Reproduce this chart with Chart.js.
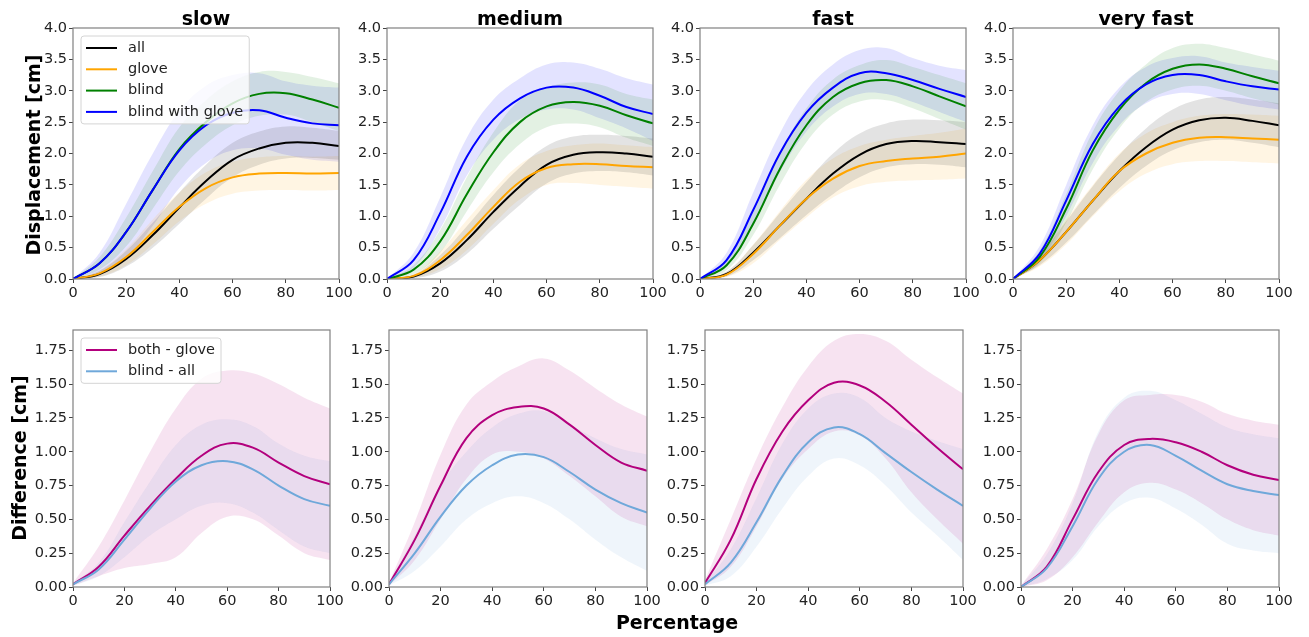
<!DOCTYPE html>
<html>
<head>
<meta charset="utf-8">
<script src="https://cdn.jsdelivr.net/npm/chart.js@4.4.0/dist/chart.umd.min.js"></script>
<style>
  body { margin: 0; background: #fff; font-family: "DejaVu Sans", sans-serif; }
  #fig { position: relative; width: 1309px; height: 637px; overflow: hidden; background: #fff; }
  #fig canvas { position: absolute; }
  .lbl { position: absolute; font-weight: bold; font-size: 19px; color: #000; white-space: nowrap; transform: translate(-50%, -50%); }
  .rot { transform: translate(-50%, -50%) rotate(-90deg); }
</style>
</head>
<body>
<div id="fig"></div>
<script>
// sample positions along the movement (percent)
const percent = [0, 10, 20, 30, 40, 50, 60, 70, 80, 90, 100];

const speeds = ["slow", "medium", "fast", "very fast"];
const dispNames = ["all", "glove", "blind", "blind with glove"];
const diffNames = ["both - glove", "blind - all"];

const xTicks = [0, 20, 40, 60, 80, 100];
const dispTicks = [0, 0.5, 1, 1.5, 2, 2.5, 3, 3.5, 4];
const diffTicks = [0, 0.25, 0.5, 0.75, 1, 1.25, 1.5, 1.75];

// displacement, slow
const allSlow      = [0, 0.08, 0.32, 0.70, 1.14, 1.56, 1.90, 2.08, 2.17, 2.17, 2.12];
const allSlowLo    = [0, 0.03, 0.20, 0.50, 0.88, 1.28, 1.62, 1.82, 1.92, 1.93, 1.90];
const allSlowHi    = [0, 0.13, 0.45, 0.90, 1.38, 1.82, 2.17, 2.35, 2.43, 2.41, 2.36];
const gloveSlow    = [0, 0.09, 0.35, 0.75, 1.15, 1.45, 1.62, 1.68, 1.69, 1.68, 1.69];
const gloveSlowLo  = [0, 0.04, 0.22, 0.55, 0.92, 1.20, 1.36, 1.41, 1.42, 1.41, 1.42];
const gloveSlowHi  = [0, 0.14, 0.48, 0.95, 1.38, 1.70, 1.87, 1.94, 1.96, 1.95, 1.96];
const blindSlow    = [0, 0.25, 0.75, 1.42, 2.07, 2.50, 2.80, 2.95, 2.96, 2.86, 2.73];
const blindSlowLo  = [0, 0.15, 0.52, 1.12, 1.72, 2.15, 2.45, 2.60, 2.62, 2.50, 2.36];
const blindSlowHi  = [0, 0.35, 0.98, 1.72, 2.42, 2.85, 3.15, 3.30, 3.30, 3.22, 3.12];
const bothSlow     = [0, 0.25, 0.75, 1.42, 2.05, 2.45, 2.65, 2.69, 2.57, 2.48, 2.45];
const bothSlowLo   = [0, 0.10, 0.35, 0.85, 1.45, 1.85, 2.05, 2.08, 1.98, 1.90, 1.87];
const bothSlowHi   = [0, 0.42, 1.20, 2.00, 2.68, 3.08, 3.25, 3.28, 3.15, 3.08, 3.05];

// displacement, medium
const allMed       = [0, 0.04, 0.25, 0.62, 1.07, 1.48, 1.82, 1.98, 2.02, 2.00, 1.95];
const allMedLo     = [0, 0.01, 0.12, 0.40, 0.80, 1.18, 1.52, 1.68, 1.72, 1.70, 1.65];
const allMedHi     = [0, 0.07, 0.38, 0.84, 1.34, 1.78, 2.12, 2.27, 2.30, 2.28, 2.24];
const gloveMed     = [0, 0.05, 0.30, 0.70, 1.15, 1.55, 1.77, 1.83, 1.83, 1.80, 1.78];
const gloveMedLo   = [0, 0.02, 0.16, 0.46, 0.88, 1.27, 1.50, 1.53, 1.50, 1.47, 1.44];
const gloveMedHi   = [0, 0.08, 0.44, 0.94, 1.42, 1.83, 2.04, 2.13, 2.16, 2.13, 2.10];
const blindMed     = [0, 0.15, 0.60, 1.35, 2.02, 2.50, 2.75, 2.82, 2.76, 2.61, 2.48];
const blindMedLo   = [0, 0.08, 0.42, 1.08, 1.70, 2.15, 2.42, 2.48, 2.42, 2.25, 2.12];
const blindMedHi   = [0, 0.22, 0.78, 1.62, 2.34, 2.85, 3.05, 3.13, 3.10, 2.95, 2.86];
const bothMed      = [0, 0.30, 1.05, 1.95, 2.54, 2.88, 3.05, 3.05, 2.92, 2.74, 2.63];
const bothMedLo    = [0, 0.18, 0.80, 1.65, 2.22, 2.55, 2.70, 2.70, 2.56, 2.40, 2.20];
const bothMedHi    = [0, 0.42, 1.30, 2.25, 2.86, 3.20, 3.42, 3.45, 3.35, 3.20, 3.10];

// displacement, fast
const allFast      = [0, 0.08, 0.42, 0.85, 1.28, 1.68, 1.98, 2.15, 2.20, 2.18, 2.15];
const allFastLo    = [0, 0.04, 0.30, 0.65, 1.02, 1.35, 1.62, 1.78, 1.83, 1.82, 1.78];
const allFastHi    = [0, 0.12, 0.54, 1.05, 1.54, 2.00, 2.32, 2.48, 2.54, 2.53, 2.50];
const gloveFast    = [0, 0.07, 0.40, 0.85, 1.28, 1.60, 1.80, 1.88, 1.92, 1.95, 2.00];
const gloveFastLo  = [0, 0.03, 0.25, 0.62, 0.98, 1.30, 1.48, 1.55, 1.57, 1.58, 1.60];
const gloveFastHi  = [0, 0.11, 0.55, 1.08, 1.58, 1.92, 2.12, 2.22, 2.28, 2.33, 2.40];
const blindFast    = [0, 0.22, 0.88, 1.75, 2.45, 2.90, 3.12, 3.17, 3.07, 2.91, 2.75];
const blindFastLo  = [0, 0.14, 0.70, 1.50, 2.18, 2.62, 2.83, 2.85, 2.72, 2.55, 2.38];
const blindFastHi  = [0, 0.30, 1.06, 2.00, 2.72, 3.18, 3.41, 3.49, 3.38, 3.25, 3.12];
const bothFast     = [0, 0.30, 1.10, 2.00, 2.65, 3.05, 3.28, 3.28, 3.17, 3.03, 2.90];
const bothFastLo   = [0, 0.20, 0.85, 1.70, 2.35, 2.75, 2.95, 2.95, 2.82, 2.66, 2.50];
const bothFastHi   = [0, 0.42, 1.38, 2.32, 3.00, 3.42, 3.65, 3.68, 3.52, 3.40, 3.33];

// displacement, very fast
const allVf        = [0, 0.30, 0.75, 1.25, 1.72, 2.10, 2.38, 2.53, 2.57, 2.52, 2.45];
const allVfLo      = [0, 0.22, 0.58, 1.02, 1.45, 1.80, 2.05, 2.18, 2.22, 2.17, 2.10];
const allVfHi      = [0, 0.38, 0.92, 1.48, 1.98, 2.40, 2.70, 2.86, 2.90, 2.86, 2.80];
const gloveVf      = [0, 0.30, 0.75, 1.25, 1.72, 2.00, 2.17, 2.25, 2.26, 2.24, 2.22];
const gloveVfLo    = [0, 0.20, 0.55, 1.00, 1.40, 1.68, 1.83, 1.88, 1.88, 1.86, 1.84];
const gloveVfHi    = [0, 0.40, 0.95, 1.50, 2.00, 2.32, 2.50, 2.60, 2.63, 2.62, 2.60];
const blindVf      = [0, 0.35, 1.12, 2.05, 2.70, 3.12, 3.35, 3.42, 3.35, 3.23, 3.12];
const blindVfLo    = [0, 0.25, 0.90, 1.75, 2.40, 2.82, 3.02, 3.08, 3.00, 2.88, 2.78];
const blindVfHi    = [0, 0.45, 1.35, 2.35, 3.00, 3.42, 3.68, 3.75, 3.68, 3.58, 3.48];
const bothVf       = [0, 0.40, 1.25, 2.15, 2.75, 3.10, 3.25, 3.25, 3.15, 3.07, 3.02];
const bothVfLo     = [0, 0.28, 1.00, 1.85, 2.45, 2.80, 2.95, 2.95, 2.85, 2.76, 2.70];
const bothVfHi     = [0, 0.52, 1.50, 2.45, 3.05, 3.38, 3.52, 3.55, 3.45, 3.38, 3.32];

// differences
const bgSlow   = [0.02, 0.15, 0.38, 0.60, 0.80, 0.97, 1.06, 1.03, 0.92, 0.82, 0.76];
const bgSlowLo = [0.01, 0.08, 0.14, 0.17, 0.22, 0.40, 0.52, 0.50, 0.38, 0.25, 0.20];
const bgSlowHi = [0.03, 0.30, 0.64, 1.00, 1.32, 1.54, 1.60, 1.58, 1.50, 1.40, 1.32];
const baSlow   = [0.02, 0.13, 0.35, 0.58, 0.78, 0.90, 0.93, 0.87, 0.75, 0.65, 0.60];
const baSlowLo = [0.01, 0.08, 0.22, 0.38, 0.50, 0.60, 0.62, 0.55, 0.42, 0.30, 0.25];
const baSlowHi = [0.03, 0.18, 0.48, 0.78, 1.05, 1.20, 1.24, 1.19, 1.06, 0.97, 0.93];

const bgMed    = [0.02, 0.35, 0.75, 1.10, 1.27, 1.33, 1.32, 1.20, 1.05, 0.92, 0.86];
const bgMedLo  = [0.01, 0.20, 0.50, 0.80, 0.98, 1.00, 0.95, 0.82, 0.67, 0.52, 0.45];
const bgMedHi  = [0.03, 0.48, 0.98, 1.35, 1.52, 1.63, 1.69, 1.60, 1.47, 1.35, 1.26];
const baMed    = [0.02, 0.25, 0.52, 0.75, 0.90, 0.98, 0.96, 0.85, 0.72, 0.62, 0.55];
const baMedLo  = [0.01, 0.12, 0.30, 0.50, 0.62, 0.67, 0.62, 0.50, 0.35, 0.22, 0.12];
const baMedHi  = [0.03, 0.38, 0.75, 1.00, 1.18, 1.28, 1.30, 1.20, 1.10, 1.02, 0.98];

const bgFast   = [0.03, 0.35, 0.80, 1.15, 1.38, 1.51, 1.49, 1.37, 1.20, 1.03, 0.87];
const bgFastLo = [0.01, 0.15, 0.45, 0.80, 1.02, 1.15, 1.12, 0.95, 0.70, 0.50, 0.32];
const bgFastHi = [0.05, 0.50, 0.95, 1.33, 1.63, 1.82, 1.87, 1.82, 1.68, 1.55, 1.43];
const baFast   = [0.02, 0.18, 0.48, 0.82, 1.07, 1.18, 1.13, 0.99, 0.85, 0.72, 0.60];
const baFastLo = [0.01, 0.08, 0.30, 0.58, 0.82, 0.95, 0.90, 0.75, 0.55, 0.38, 0.20];
const baFastHi = [0.03, 0.28, 0.66, 1.06, 1.32, 1.43, 1.40, 1.25, 1.15, 1.08, 1.02];

const bgVf     = [0.00, 0.15, 0.50, 0.85, 1.05, 1.095, 1.07, 1.00, 0.90, 0.83, 0.79];
const bgVfLo   = [0.00, 0.05, 0.22, 0.48, 0.70, 0.77, 0.72, 0.62, 0.50, 0.42, 0.38];
const bgVfHi   = [0.01, 0.28, 0.65, 1.13, 1.38, 1.42, 1.42, 1.37, 1.28, 1.23, 1.20];
const baVf     = [0.00, 0.14, 0.45, 0.80, 1.00, 1.05, 0.97, 0.86, 0.76, 0.71, 0.68];
const baVfLo   = [0.00, 0.06, 0.20, 0.45, 0.62, 0.66, 0.58, 0.46, 0.32, 0.27, 0.25];
const baVfHi   = [0.01, 0.24, 0.62, 1.15, 1.40, 1.45, 1.38, 1.28, 1.18, 1.13, 1.10];

const dispColors = ["#000000", "#ffa500", "#008000", "#0000ff"];
const diffColors = ["#b3007d", "#6fa8da"];

const dispSeries = [
  [[allSlow, allSlowLo, allSlowHi], [gloveSlow, gloveSlowLo, gloveSlowHi], [blindSlow, blindSlowLo, blindSlowHi], [bothSlow, bothSlowLo, bothSlowHi]],
  [[allMed, allMedLo, allMedHi], [gloveMed, gloveMedLo, gloveMedHi], [blindMed, blindMedLo, blindMedHi], [bothMed, bothMedLo, bothMedHi]],
  [[allFast, allFastLo, allFastHi], [gloveFast, gloveFastLo, gloveFastHi], [blindFast, blindFastLo, blindFastHi], [bothFast, bothFastLo, bothFastHi]],
  [[allVf, allVfLo, allVfHi], [gloveVf, gloveVfLo, gloveVfHi], [blindVf, blindVfLo, blindVfHi], [bothVf, bothVfLo, bothVfHi]]
];
const diffSeries = [
  [[bgSlow, bgSlowLo, bgSlowHi], [baSlow, baSlowLo, baSlowHi]],
  [[bgMed, bgMedLo, bgMedHi], [baMed, baMedLo, baMedHi]],
  [[bgFast, bgFastLo, bgFastHi], [baFast, baFastLo, baFastHi]],
  [[bgVf, bgVfLo, bgVfHi], [baVf, baVfLo, baVfHi]]
];

Chart.defaults.font.family = "'DejaVu Sans', sans-serif";
Chart.defaults.font.size = 14.5;
Chart.defaults.color = "#222";

function rgba(hex, a) {
  const n = parseInt(hex.slice(1), 16);
  return `rgba(${n >> 16}, ${(n >> 8) & 255}, ${n & 255}, ${a})`;
}

const pts = ys => percent.map((x, i) => ({ x: x, y: ys[i] }));

// axes box drawn on all four sides
const frame = {
  id: "frame",
  afterDatasetsDraw(chart) {
    const { ctx, chartArea: a } = chart;
    ctx.save();
    ctx.strokeStyle = "#808080";
    ctx.lineWidth = 1.2;
    ctx.strokeRect(a.left, a.top, a.width, a.height);
    ctx.restore();
  }
};

// legend box sitting in the upper-left of the plot area
const insetLegend = {
  id: "insetLegend",
  afterDraw(chart, args, opts) {
    if (!opts.labels) return;
    const { ctx, chartArea: a } = chart;
    const rowH = 21.3;
    ctx.save();
    ctx.font = "14.5px 'DejaVu Sans'";
    const textW = Math.max(...opts.labels.map(t => ctx.measureText(t).width));
    const x = a.left + 8, y = a.top + 8;
    const w = 47 + textW + 6, h = (opts.labels.length - 1) * rowH + 24;
    ctx.beginPath();
    ctx.roundRect(x, y, w, h, 3);
    ctx.fillStyle = "rgba(255,255,255,0.8)";
    ctx.fill();
    ctx.strokeStyle = "#d4d4d4";
    ctx.lineWidth = 1;
    ctx.stroke();
    ctx.textBaseline = "middle";
    opts.labels.forEach((t, i) => {
      const cy = y + 12 + i * rowH;
      ctx.strokeStyle = opts.colors[i];
      ctx.lineWidth = 2;
      ctx.beginPath();
      ctx.moveTo(x + 5, cy);
      ctx.lineTo(x + 36, cy);
      ctx.stroke();
      ctx.fillStyle = "#222";
      ctx.fillText(t, x + 47, cy);
    });
    ctx.restore();
  }
};

const fig = document.getElementById("fig");
const padL = 60, padR = 16, padT = 12, padB = 28;
const curve = { pointRadius: 0, tension: 0.4 };

function panel(box, series, colors, yMax, yTicks, digits, legend) {
  const canvas = document.createElement("canvas");
  canvas.width = box.w + padL + padR;
  canvas.height = box.h + padT + padB;
  canvas.style.left = (box.x - padL) + "px";
  canvas.style.top = (box.y - padT) + "px";
  fig.appendChild(canvas);

  const datasets = [];
  // shaded spread first
  series.forEach((s, i) => {
    datasets.push({
      ...curve, data: pts(s[2]), borderWidth: 0,
      backgroundColor: rgba(colors[i], 0.11), fill: "+1", order: 10
    });
    datasets.push({ ...curve, data: pts(s[1]), borderWidth: 0, fill: false, order: 10 });
  });
  // mean curves, later series on top
  series.forEach((s, i) => {
    datasets.push({
      ...curve, data: pts(s[0]), borderColor: colors[i], borderWidth: 2,
      fill: false, order: series.length - i
    });
  });

  new Chart(canvas, {
    type: "line",
    data: { datasets },
    options: {
      responsive: false,
      animation: false,
      devicePixelRatio: 1,
      events: [],
      layout: { padding: { top: padT, right: padR, left: 0, bottom: 0 } },
      plugins: {
        legend: { display: false },
        tooltip: { enabled: false },
        filler: { drawTime: "beforeDatasetsDraw" },
        insetLegend: legend || {}
      },
      scales: {
        x: {
          type: "linear", min: 0, max: 100,
          afterBuildTicks: sc => { sc.ticks = xTicks.map(v => ({ value: v })); },
          afterFit: sc => { sc.height = padB; },
          ticks: { padding: 2, maxRotation: 0, callback: v => String(v) },
          grid: { drawOnChartArea: false, drawTicks: true, tickLength: 4, color: "#444" },
          border: { display: false }
        },
        y: {
          type: "linear", min: 0, max: yMax,
          afterBuildTicks: sc => { sc.ticks = yTicks.map(v => ({ value: v })); },
          afterFit: sc => { sc.width = padL; },
          ticks: { padding: 2, callback: v => v.toFixed(digits) },
          grid: { drawOnChartArea: false, drawTicks: true, tickLength: 4, color: "#444" },
          border: { display: false }
        }
      }
    },
    plugins: [frame, insetLegend]
  });
}

function label(text, x, y, rotated) {
  const d = document.createElement("div");
  d.className = rotated ? "lbl rot" : "lbl";
  d.textContent = text;
  d.style.left = x + "px";
  d.style.top = y + "px";
  fig.appendChild(d);
}

const topLefts = [73, 387, 700, 1013];
const botLefts = [73, 389, 705, 1021];
const botWidths = [257, 258, 258, 258];

speeds.forEach((name, k) => {
  panel({ x: topLefts[k], y: 28, w: 266, h: 251 }, dispSeries[k], dispColors, 4, dispTicks, 1,
    k === 0 ? { labels: dispNames, colors: dispColors } : null);
  panel({ x: botLefts[k], y: 330, w: botWidths[k], h: 257 }, diffSeries[k], diffColors, 1.9, diffTicks, 2,
    k === 0 ? { labels: diffNames, colors: diffColors } : null);
  label(name, topLefts[k] + 133, 18, false);
});

label("Displacement [cm]", 33, 155, true);
label("Difference [cm]", 19, 458, true);
label("Percentage", 677, 622, false);
</script>
</body>
</html>
